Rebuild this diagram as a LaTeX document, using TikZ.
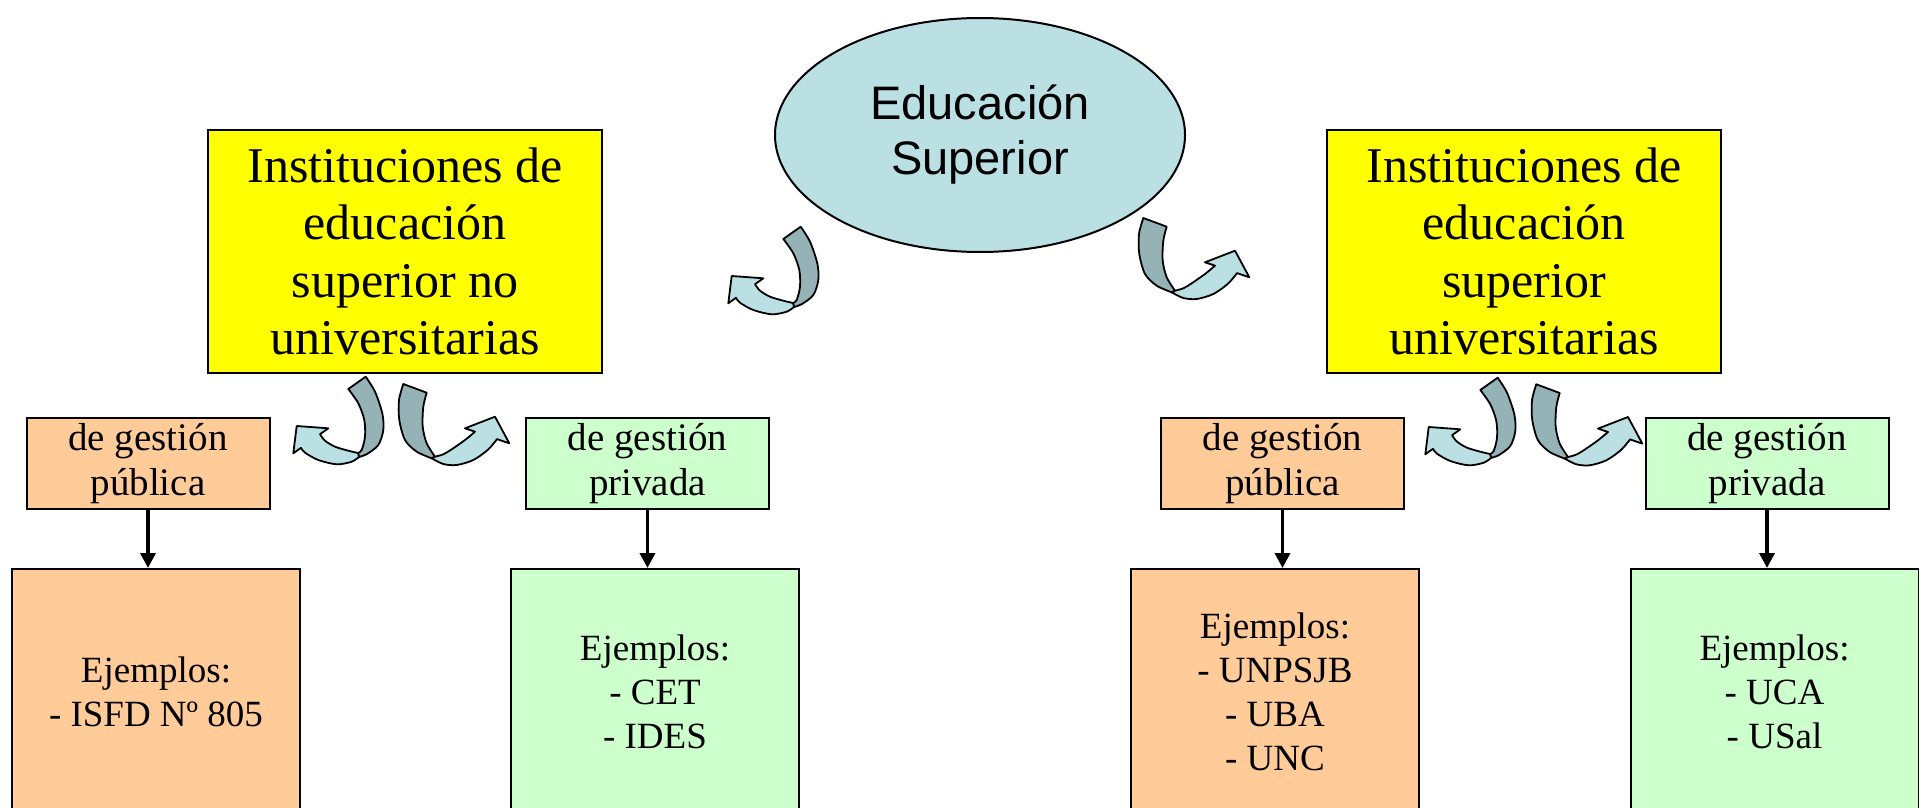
\documentclass[tikz,border=0pt]{standalone}
\usepackage{fontspec}
\setmainfont{Liberation Serif}
\newfontfamily\arialf{Liberation Sans}
\usetikzlibrary{shapes.geometric,arrows.meta}
\definecolor{ylw}{HTML}{FFFF00}
\definecolor{org}{HTML}{FFCC99}
\definecolor{grn}{HTML}{CCFFCC}
\definecolor{ltb}{HTML}{BBE0E3}
\definecolor{dkb}{HTML}{95B3B7}
\begin{document}
\begin{tikzpicture}[x=1pt,y=-1pt,
  box/.style={draw=black, line width=2pt, align=center, inner sep=0pt},
  ybox/.style={box, fill=ylw, minimum width=394pt, minimum height=243pt, font=\fontsize{50}{57.5}\selectfont},
  sbox/.style={box, minimum width=243pt, minimum height=91pt, font=\fontsize{39}{45}\selectfont},
  bbox/.style={box, minimum width=288pt, minimum height=246pt, font=\fontsize{37}{44}\selectfont},
  conn/.style={line width=3.5pt, -{Triangle[width=15pt,length=15pt]}},
  rib/.style={draw=black, line width=1.8pt, line join=round},
  arrA/.pic={
    \filldraw[rib, fill=dkb] (-9.7,-64) -- (7.7,-76.3)
      -- plot[smooth] coordinates {(7.7,-76.3) (17,-61.3) (24.3,-39.7) (25.3,-23) (20.3,-8) (9,1) (1,4)}
      -- plot[smooth] coordinates {(0,0) (3.7,-3) (7,-16.3) (6.3,-33) (0.3,-49.7) (-9.7,-64)} -- cycle;
    \filldraw[rib, fill=ltb]
      plot[smooth] coordinates {(1,4) (-6.3,8.7) (-21.3,11.3) (-39.7,7) (-53,-0.3) (-57,-5.2)}
      -- (-64.7,0.3) -- (-61.3,-27) -- (-29.7,-24.7)
      -- plot[smooth] coordinates {(-38,-18.8) (-33,-12.3) (-23,-6.3) (-9.7,-2.3) (0,0)} -- cycle;
  },
  arrB/.pic={
    \filldraw[rib, fill=dkb] (-31.7,-72.7) -- (-8.3,-64)
      -- plot[smooth] coordinates {(-8.3,-64) (-11.7,-50) (-12.3,-30) (-8.3,-13.4) (0,0)}
      -- plot[smooth] coordinates {(-3.3,1.6) (-18.3,-5) (-30,-16.7) (-35.7,-36.7) (-36,-56.7) (-31.7,-72.7)} -- cycle;
    \filldraw[rib, fill=ltb]
      plot[smooth] coordinates {(-3.3,1.6) (8.3,7.3) (21.7,8.3) (38.3,3.3) (53,-7) (62,-17.6)}
      -- (74.3,-13.4) -- (60,-40) -- (30,-28.4)
      -- plot[smooth] coordinates {(40,-25) (30,-16.7) (16.7,-7.4) (8.3,-2.4) (0,0)} -- cycle;
  }
]
\useasboundingbox (0,0) rectangle (1919,808);
\fill[white] (0,0) rectangle (1919,808);
\begin{scope}
\clip (0,0) rectangle (1919,808);

% central ellipse
\node[ellipse, draw=black, line width=2pt, fill=ltb, minimum width=410pt, minimum height=234pt,
      inner sep=0pt, align=center, font=\arialf\fontsize{47}{55}\selectfont] (es) at (980,135) {Educación\\Superior};

% yellow boxes
\node[ybox] (yl) at (405,251.5) {Instituciones de\\educación\\superior no\\universitarias};
\node[ybox] (yr) at (1524,251.5) {Instituciones de\\educación\\superior\\universitarias};

% small boxes
\node[sbox, fill=org] (osl) at (148,463.5) {de gestión\\pública};
\node[sbox, fill=grn] (gsl) at (647.5,463.5) {de gestión\\privada};
\node[sbox, fill=org] (osr) at (1282.5,463.5) {de gestión\\pública};
\node[sbox, fill=grn] (gsr) at (1767,463.5) {de gestión\\privada};

% big boxes
\node[bbox, fill=org] (obl) at (156,692) {Ejemplos:\\- ISFD Nº 805};
\node[bbox, fill=grn] (gbl) at (655,692) {Ejemplos:\\- CET\\- IDES};
\node[bbox, fill=org] (obr) at (1275,692) {Ejemplos:\\- UNPSJB\\- UBA\\- UNC};
\node[bbox, fill=grn] (gbr) at (1774.5,692) {Ejemplos:\\- UCA\\- USal};

% connectors
\draw[conn] (osl.south) -- (osl.south |- obl.north);
\draw[conn] (gsl.south) -- (gsl.south |- gbl.north);
\draw[conn] (osr.south) -- (osr.south |- obr.north);
\draw[conn] (gsr.south) -- (gsr.south |- gbr.north);

% curved ribbon arrows
\pic at (793,303) {arrA};
\pic at (1175,290.7) {arrB};
\pic at (358,453) {arrA};
\pic at (435,456.7) {arrB};
\pic at (1490,454) {arrA};
\pic at (1568,457) {arrB};
\end{scope}
\end{tikzpicture}
\end{document}
